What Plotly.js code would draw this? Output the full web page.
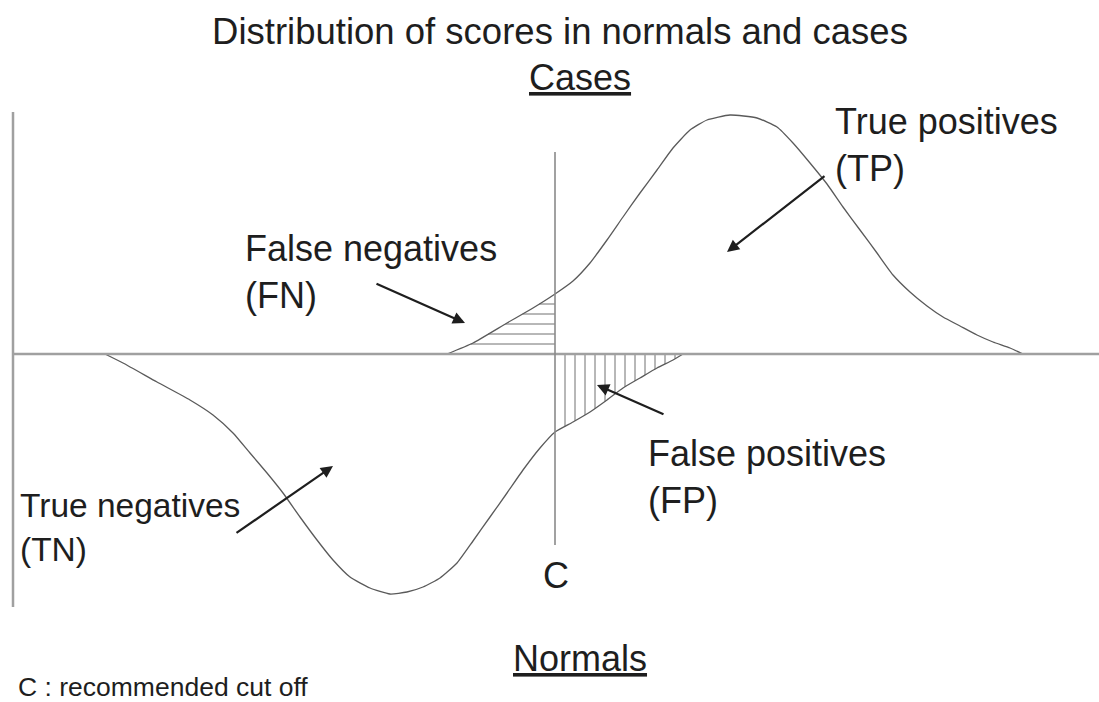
<!DOCTYPE html>
<html>
<head>
<meta charset="utf-8">
<script src="https://cdn.plot.ly/plotly-3.0.1.min.js"></script>
<style>html,body{margin:0;padding:0;background:#fff;}#chart{width:1099px;height:702px;}</style>
</head>
<body>
<div id="chart"></div>
<script>
// ---- Data (score units on x, density units on y; normals drawn below the baseline) ----
const casesScore   = [43.4, 46.0, 49.4, 52.0, 54.2, 56.0, 57.7, 59.4, 61.0, 62.7, 64.4, 66.0, 67.7, 69.4, 71.7, 74.4, 76.4, 78.0, 79.7, 81.4, 83.0, 84.7, 86.4, 88.0, 89.7, 91.4, 93.0, 94.7, 96.4, 98.0, 99.7, 101.0];
const casesDensity = [0.0, 1.1, 3.1, 4.6, 6.0, 7.3, 9.1, 11.4, 13.7, 16.1, 18.4, 20.6, 22.4, 23.4, 23.9, 23.6, 22.7, 21.1, 19.1, 17.0, 14.7, 12.4, 10.1, 7.9, 6.2, 4.8, 3.7, 2.8, 1.9, 1.2, 0.6, 0.0];

const normalsScore   = [9.2, 11.0, 14.4, 17.7, 20.0, 22.0, 23.7, 25.4, 27.0, 28.7, 30.4, 32.0, 33.7, 35.7, 37.7, 39.4, 41.0, 42.7, 44.4, 46.0, 47.7, 49.4, 51.0, 52.7, 54.2, 56.0, 57.7, 59.4, 61.0, 62.7, 64.4, 66.0, 67.0];
const normalsDensity = [0.0, -0.9, -2.8, -4.6, -6.1, -7.9, -9.9, -11.9, -13.9, -16.3, -18.6, -20.6, -22.3, -23.4, -24.0, -23.8, -23.3, -22.4, -20.9, -18.7, -16.3, -13.9, -11.6, -9.4, -7.8, -6.8, -5.8, -4.6, -3.4, -2.4, -1.4, -0.6, 0.0];

const cutOff = 54.2;          // C : recommended cut off
const hatchStep = 1.0;        // spacing of the hatching

// ---- helpers ----
function interpY(xs, ys, x) {
  for (let i = 0; i < xs.length - 1; i++) {
    if (x >= xs[i] && x <= xs[i + 1]) {
      const t = (x - xs[i]) / (xs[i + 1] - xs[i]);
      return ys[i] + t * (ys[i + 1] - ys[i]);
    }
  }
  return null;
}
function interpXRising(xs, ys, y) {
  for (let i = 0; i < xs.length - 1; i++) {
    if (ys[i + 1] <= ys[i]) break;
    if (y >= ys[i] && y <= ys[i + 1]) {
      const t = (y - ys[i]) / (ys[i + 1] - ys[i]);
      return xs[i] + t * (xs[i + 1] - xs[i]);
    }
  }
  return null;
}

// False negatives: horizontal hatching under the cases curve, left of C
const fnX = [], fnY = [];
const topAtC = interpY(casesScore, casesDensity, cutOff);
for (let h = hatchStep; h < topAtC; h += hatchStep) {
  const xs = interpXRising(casesScore, casesDensity, h);
  if (xs === null) continue;
  fnX.push(xs, cutOff, null); fnY.push(h, h, null);
}
// False positives: vertical hatching above the normals curve, right of C
const fpX = [], fpY = [];
const normEnd = normalsScore[normalsScore.length - 1];
for (let x = cutOff + hatchStep; x < normEnd; x += hatchStep) {
  const y = interpY(normalsScore, normalsDensity, x);
  if (y === null) continue;
  fpX.push(x, x, null); fpY.push(0, y, null);
}

const curveColor = '#5a5a5a';
const traces = [
  {x: fnX, y: fnY, mode: 'lines', line: {color: '#707070', width: 1}, hoverinfo: 'skip'},
  {x: fpX, y: fpY, mode: 'lines', line: {color: '#707070', width: 1}, hoverinfo: 'skip'},
  {x: casesScore, y: casesDensity, mode: 'lines', name: 'Cases',
   line: {color: curveColor, width: 1.3, shape: 'spline', smoothing: 0.5}},
  {x: normalsScore, y: normalsDensity, mode: 'lines', name: 'Normals',
   line: {color: curveColor, width: 1.3, shape: 'spline', smoothing: 0.5}}
];

const txtFont = {family: 'Liberation Sans, Arial, sans-serif', size: 36, color: '#1e1e1e'};
function label(x, y, text, size) {
  return {x: x, y: y, xref: 'x', yref: 'y', text: text, showarrow: false,
          xanchor: 'left', yanchor: 'middle', align: 'left',
          font: {family: txtFont.family, size: size || txtFont.size, color: txtFont.color}};
}
function arrow(hx, hy, tx, ty) {
  return {x: hx, y: hy, ax: tx, ay: ty, xref: 'x', yref: 'y', axref: 'x', ayref: 'y',
          text: '', showarrow: true, arrowhead: 2, arrowsize: 1.1, arrowwidth: 2.2, arrowcolor: '#1e1e1e'};
}

const layout = {
  width: 1099, height: 702,
  margin: {l: 0, r: 0, t: 0, b: 0},
  paper_bgcolor: '#ffffff', plot_bgcolor: '#ffffff',
  showlegend: false,
  title: {text: 'Distribution of scores in normals and cases',
          font: {family: txtFont.family, size: 36.5, color: txtFont.color},
          x: 560 / 1099, xanchor: 'center', y: 1 - 31 / 702, yanchor: 'middle', yref: 'container'},
  xaxis: {range: [-1.3, 108.6], showgrid: false, zeroline: false, showticklabels: false, showline: false, ticks: '', fixedrange: true},
  yaxis: {range: [-34.8, 35.4], showgrid: false, zeroline: false, showticklabels: false, showline: false, ticks: '', fixedrange: true},
  shapes: [
    // vertical axis
    {type: 'line', xref: 'x', yref: 'y', x0: 0, x1: 0, y0: 24.2, y1: -25.3, line: {color: '#a0a0a0', width: 2.5}},
    // baseline
    {type: 'line', xref: 'x', yref: 'y', x0: 0, x1: 108.6, y0: 0, y1: 0, line: {color: '#a0a0a0', width: 2.5}},
    // cut-off line C
    {type: 'line', xref: 'x', yref: 'y', x0: cutOff, x1: cutOff, y0: 20.2, y1: -19.1, line: {color: '#8a8a8a', width: 1.6}}
  ],
  annotations: [
    {x: 56.7, y: 27.7, xref: 'x', yref: 'y', text: '<span style="text-decoration:underline">Cases</span>', showarrow: false,
     xanchor: 'center', yanchor: 'middle', font: txtFont},
    {x: 56.7, y: -30.4, xref: 'x', yref: 'y', text: '<span style="text-decoration:underline">Normals</span>', showarrow: false,
     xanchor: 'center', yanchor: 'middle', font: txtFont},
    {x: 0.3, y: -33.3, xref: 'x', yref: 'y', text: 'C : recommended cut off', showarrow: false,
     xanchor: 'left', yanchor: 'middle', font: {family: txtFont.family, size: 26.5, color: txtFont.color}},
    {x: cutOff + 0.1, y: -22.15, xref: 'x', yref: 'y', text: 'C', showarrow: false,
     xanchor: 'center', yanchor: 'middle', font: txtFont},
    label(82.0, 20.9, 'True positives<br>(TP)'),
    label(23.0, 8.2, 'False negatives<br>(FN)'),
    label(63.3, -12.3, 'False positives<br>(FP)'),
    label(0.5, -17.3, 'True negatives<br>(TN)', 33.5),
    arrow(71.4, 10.2, 81.3, 17.9),
    arrow(45.2, 3.1, 36.2, 7.1),
    arrow(58.4, -3.1, 65.2, -6.1),
    arrow(32.0, -11.2, 22.2, -18.0)
  ]
};

Plotly.newPlot('chart', traces, layout, {staticPlot: true, displayModeBar: false});
</script>
</body>
</html>
